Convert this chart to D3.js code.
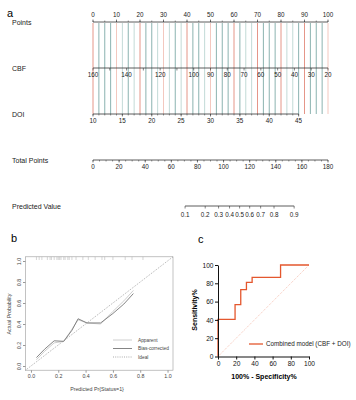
<!DOCTYPE html>
<html>
<head>
<meta charset="utf-8">
<script src="https://cdn.jsdelivr.net/npm/d3@7"></script>
<style>
  body { margin: 0; background: #fff; }
  svg { font-family: "Liberation Sans", Arial, sans-serif; }
</style>
</head>
<body>
<div id="chart"></div>
<script>
const width = 356;
const height = 400;

// nomogram (panel a)
const pointsTicks = [0, 10, 20, 30, 40, 50, 60, 70, 80, 90, 100];
const cbfTicks = [160, 150, 140, 130, 120, 110, 100, 90, 80, 70, 60, 50, 40, 30, 20];
const cbfLabels = [160, 140, 120, 100, 90, 80, 70, 60, 50, 40, 30, 20];
const doiTicks = [10, 15, 20, 25, 30, 35, 40, 45];
const totalTicks = [0, 20, 40, 60, 80, 100, 120, 140, 160, 180];
const predTicks = [0.1, 0.2, 0.3, 0.4, 0.5, 0.6, 0.7, 0.8, 0.9];
// one vertical guide every 2.5 points: r = red, p = pale red, t = teal, l = light teal
const guideColors = ["r", "t", "t", "t", "p", "l", "t", "l", "r", "t", "t", "l", "p", "l", "t", "l",
    "r", "t", "t", "l", "p", "t", "t", "t", "r", "t", "l", "l", "r", "t", "t", "t", "r", "l", "l", "t",
    "r", "t", "t", "t", "p"];
// logistic link of the nomogram: p = 0.5 at 112.3 total points
const predMid = 112.3;
const predSlope = 0.0526;

// calibration (panel b)
const calX = [0.04, 0.1, 0.17, 0.24, 0.3, 0.345, 0.41, 0.51, 0.6, 0.68, 0.75];
const apparentY = [0.06, 0.14, 0.22, 0.235, 0.35, 0.44, 0.41, 0.40, 0.52, 0.62, 0.72];
const biasY = [0.08, 0.16, 0.24, 0.235, 0.34, 0.45, 0.41, 0.41, 0.50, 0.59, 0.69];
const rugX = [0.04, 0.06, 0.08, 0.12, 0.14, 0.15, 0.17, 0.19, 0.2, 0.21, 0.22, 0.24, 0.25, 0.27,
    0.28, 0.3, 0.33, 0.38, 0.42, 0.47, 0.52, 0.54, 0.6, 0.69, 0.74, 0.82];
const calTicks = [0, 0.2, 0.4, 0.6, 0.8, 1.0];
const legendB = ["Apparent", "Bias-corrected", "Ideal"];

// ROC (panel c)
const fpr = [0, 0, 18.75, 18.75, 25, 25, 31.25, 31.25, 37.5, 37.5, 68.75, 68.75, 100];
const tpr = [0, 40.5, 40.5, 56.8, 56.8, 73.0, 73.0, 81.1, 81.1, 86.5, 86.5, 100, 100];
const rocTicks = [0, 20, 40, 60, 80, 100];

const svg = d3.select("#chart").append("svg")
    .attr("width", width)
    .attr("height", height)
    .attr("viewBox", [0, 0, width, height]);

// ---------------- panel a ----------------
const pts = d3.scaleLinear([0, 100], [93, 328]);
const cbf = d3.scaleLinear([160, 20], [93, 328]);
const doi = d3.scaleLinear([10, 45], [93, pts(87.5)]);
const total = d3.scaleLinear([0, 180], [93, 328]);
const predX = p => total(predMid + Math.log(p / (1 - p)) / predSlope);

const colorMap = { r: "#e28a7c", p: "#f2c2b8", t: "#7eaaa7", l: "#bcd6d3" };

svg.append("text").attr("x", 7).attr("y", 17).attr("font-size", 11).text("a");

const rows = [
    { name: "Points", y: 22 },
    { name: "CBF", y: 68 },
    { name: "DOI", y: 114 },
    { name: "Total Points", y: 160 },
    { name: "Predicted Value", y: 206 }
];
svg.append("g").selectAll("text").data(rows).join("text")
    .attr("x", 12).attr("y", d => d.y + 2.5)
    .attr("font-size", 7).attr("fill", "#222")
    .text(d => d.name);

svg.append("g").selectAll("line").data(guideColors).join("line")
    .attr("x1", (d, i) => pts(i * 2.5)).attr("x2", (d, i) => pts(i * 2.5))
    .attr("y1", 23).attr("y2", 114)
    .attr("stroke", d => colorMap[d]).attr("stroke-width", 0.9);

function nomoAxis(scale, y, ticks, labels, minor, up) {
    const g = svg.append("g").attr("transform", `translate(0,${y})`);
    const r = scale.range();
    g.append("line").attr("x1", r[0]).attr("x2", r[1]).attr("stroke", "#333").attr("stroke-width", 0.8);
    g.selectAll(".mn").data(minor).join("line")
        .attr("x1", scale).attr("x2", scale)
        .attr("y1", 0).attr("y2", up ? -1.5 : 1.5)
        .attr("stroke", "#333").attr("stroke-width", 0.5);
    g.selectAll(".mj").data(ticks).join("line")
        .attr("x1", scale).attr("x2", scale)
        .attr("y1", 0).attr("y2", up ? -2.5 : 2.5)
        .attr("stroke", "#333").attr("stroke-width", 0.6);
    g.selectAll("text").data(labels).join("text")
        .attr("x", scale).attr("y", up ? -5 : 9)
        .attr("text-anchor", "middle").attr("font-size", 6.3).attr("fill", "#222")
        .text(d => d);
}

nomoAxis(pts, 22, pointsTicks, pointsTicks, d3.range(0, 101, 5), true);
nomoAxis(cbf, 68, cbfTicks, cbfLabels, [], false);
nomoAxis(doi, 114, doiTicks, doiTicks, d3.range(10, 46, 1), false);
nomoAxis(total, 160, totalTicks, totalTicks, d3.range(0, 181, 5), false);
{
    const g = svg.append("g").attr("transform", "translate(0,206)");
    g.append("line").attr("x1", predX(0.1)).attr("x2", predX(0.9)).attr("stroke", "#333").attr("stroke-width", 0.8);
    g.selectAll("line.t").data(predTicks).join("line")
        .attr("x1", predX).attr("x2", predX).attr("y1", 0).attr("y2", 2.5)
        .attr("stroke", "#333").attr("stroke-width", 0.6);
    g.selectAll("text").data(predTicks).join("text")
        .attr("x", predX).attr("y", 11)
        .attr("text-anchor", "middle").attr("font-size", 6.3).attr("fill", "#222")
        .text(d => d);
}

// ---------------- panel b ----------------
svg.append("text").attr("x", 11).attr("y", 242).attr("font-size", 11).text("b");

const bx = d3.scaleLinear([-0.04, 1.04], [25.5, 173]);
const by = d3.scaleLinear([-0.04, 1.04], [370.2, 256.8]);
const gb = svg.append("g");

gb.append("rect").attr("x", 25.5).attr("y", 256.8).attr("width", 173 - 25.5).attr("height", 370.2 - 256.8)
    .attr("fill", "none").attr("stroke", "#999").attr("stroke-width", 0.6);

gb.append("g").attr("transform", "translate(0,370.2)")
    .call(d3.axisBottom(bx).tickValues(calTicks).tickFormat(d3.format(".1f")).tickSize(2.5).tickPadding(2))
    .call(g => g.select(".domain").remove())
    .call(g => g.selectAll("line").attr("stroke", "#999"))
    .call(g => g.selectAll("text").attr("font-size", 5.3).attr("fill", "#444").attr("font-family", null));

gb.append("g").attr("transform", "translate(25.5,0)")
    .call(d3.axisLeft(by).tickValues(calTicks).tickFormat(d3.format(".1f")).tickSize(2.5).tickPadding(2))
    .call(g => g.select(".domain").remove())
    .call(g => g.selectAll("line").attr("stroke", "#999"))
    .call(g => g.selectAll("text")
        .attr("font-size", 5.3).attr("fill", "#444").attr("font-family", null)
        .attr("text-anchor", "middle").attr("dy", 0).attr("x", 0).attr("y", 0)
        .attr("transform", "translate(-5,0) rotate(-90)"));

gb.append("text").attr("transform", "translate(11,314) rotate(-90)")
    .attr("text-anchor", "middle").attr("font-size", 5.3).attr("fill", "#444")
    .text("Actual Probability");
gb.append("text").attr("x", 97).attr("y", 391)
    .attr("text-anchor", "middle").attr("font-size", 5.3).attr("fill", "#444")
    .text("Predicted Pr{Status=1}");

// rug
gb.append("g").selectAll("line").data(rugX).join("line")
    .attr("x1", bx).attr("x2", bx).attr("y1", 256.8).attr("y2", 260)
    .attr("stroke", "#aaa").attr("stroke-width", 0.5);

// ideal
gb.append("line")
    .attr("x1", bx(-0.04)).attr("y1", by(-0.04)).attr("x2", bx(1.04)).attr("y2", by(1.04))
    .attr("stroke", "#888").attr("stroke-width", 0.7).attr("stroke-dasharray", "1,1.2");

const calLine = d3.line().x(d => bx(d[0])).y(d => by(d[1]));
gb.append("path").datum(calX.map((x, i) => [x, apparentY[i]]))
    .attr("d", calLine).attr("fill", "none").attr("stroke", "#c8c8c8").attr("stroke-width", 0.9);
gb.append("path").datum(calX.map((x, i) => [x, biasY[i]]))
    .attr("d", calLine).attr("fill", "none").attr("stroke", "#777").attr("stroke-width", 0.9);

const legB = gb.append("g").selectAll("g").data(legendB).join("g")
    .attr("transform", (d, i) => `translate(0,${340 + i * 8.5})`);
legB.append("line").attr("x1", 113).attr("x2", 132)
    .attr("stroke", (d, i) => ["#c8c8c8", "#777", "#888"][i])
    .attr("stroke-width", (d, i) => i === 2 ? 0.7 : 0.9)
    .attr("stroke-dasharray", (d, i) => i === 2 ? "1,1.2" : null);
legB.append("text").attr("x", 138).attr("y", 1.8)
    .attr("font-size", 4.8).attr("fill", "#444").text(d => d);

// ---------------- panel c ----------------
svg.append("text").attr("x", 198).attr("y", 243).attr("font-size", 11).text("c");

const rx = d3.scaleLinear([0, 100], [218, 309]);
const ry = d3.scaleLinear([0, 100], [356.5, 265]);
const gc = svg.append("g");

gc.append("line")
    .attr("x1", rx(0)).attr("y1", ry(0)).attr("x2", rx(100)).attr("y2", ry(100))
    .attr("stroke", "#f0a58f").attr("stroke-width", 0.7).attr("stroke-dasharray", "1,1.2");

gc.append("path").datum(fpr.map((x, i) => [x, tpr[i]]))
    .attr("d", d3.line().x(d => rx(d[0])).y(d => ry(d[1])))
    .attr("fill", "none").attr("stroke", "#e4572e").attr("stroke-width", 1.3);

gc.append("g").attr("transform", `translate(0,${ry(0)})`)
    .call(d3.axisBottom(rx).tickValues(rocTicks).tickSize(3).tickPadding(2).tickSizeOuter(0))
    .call(g => g.selectAll("line, path").attr("stroke", "#111").attr("stroke-width", 1))
    .call(g => g.selectAll("text").attr("font-size", 6.6).attr("fill", "#111").attr("font-family", null));

gc.append("g").attr("transform", `translate(${rx(0)},0)`)
    .call(d3.axisLeft(ry).tickValues(rocTicks).tickSize(3).tickPadding(1.5).tickSizeOuter(0))
    .call(g => g.selectAll("line, path").attr("stroke", "#111").attr("stroke-width", 1))
    .call(g => g.selectAll("text").attr("font-size", 6.6).attr("fill", "#111").attr("font-family", null));

gc.append("text").attr("x", 264).attr("y", 379)
    .attr("text-anchor", "middle").attr("font-size", 7).attr("font-weight", "bold")
    .text("100% - Specificity%");
gc.append("text").attr("transform", "translate(197,310) rotate(-90)")
    .attr("text-anchor", "middle").attr("font-size", 7).attr("font-weight", "bold")
    .text("Sensitivity%");

gc.append("line").attr("x1", 249).attr("x2", 263).attr("y1", 344).attr("y2", 344)
    .attr("stroke", "#e4572e").attr("stroke-width", 1.3);
gc.append("text").attr("x", 266).attr("y", 346.3)
    .attr("font-size", 6.3).attr("fill", "#222")
    .text("Combined model (CBF + DOI)");
</script>
</body>
</html>
